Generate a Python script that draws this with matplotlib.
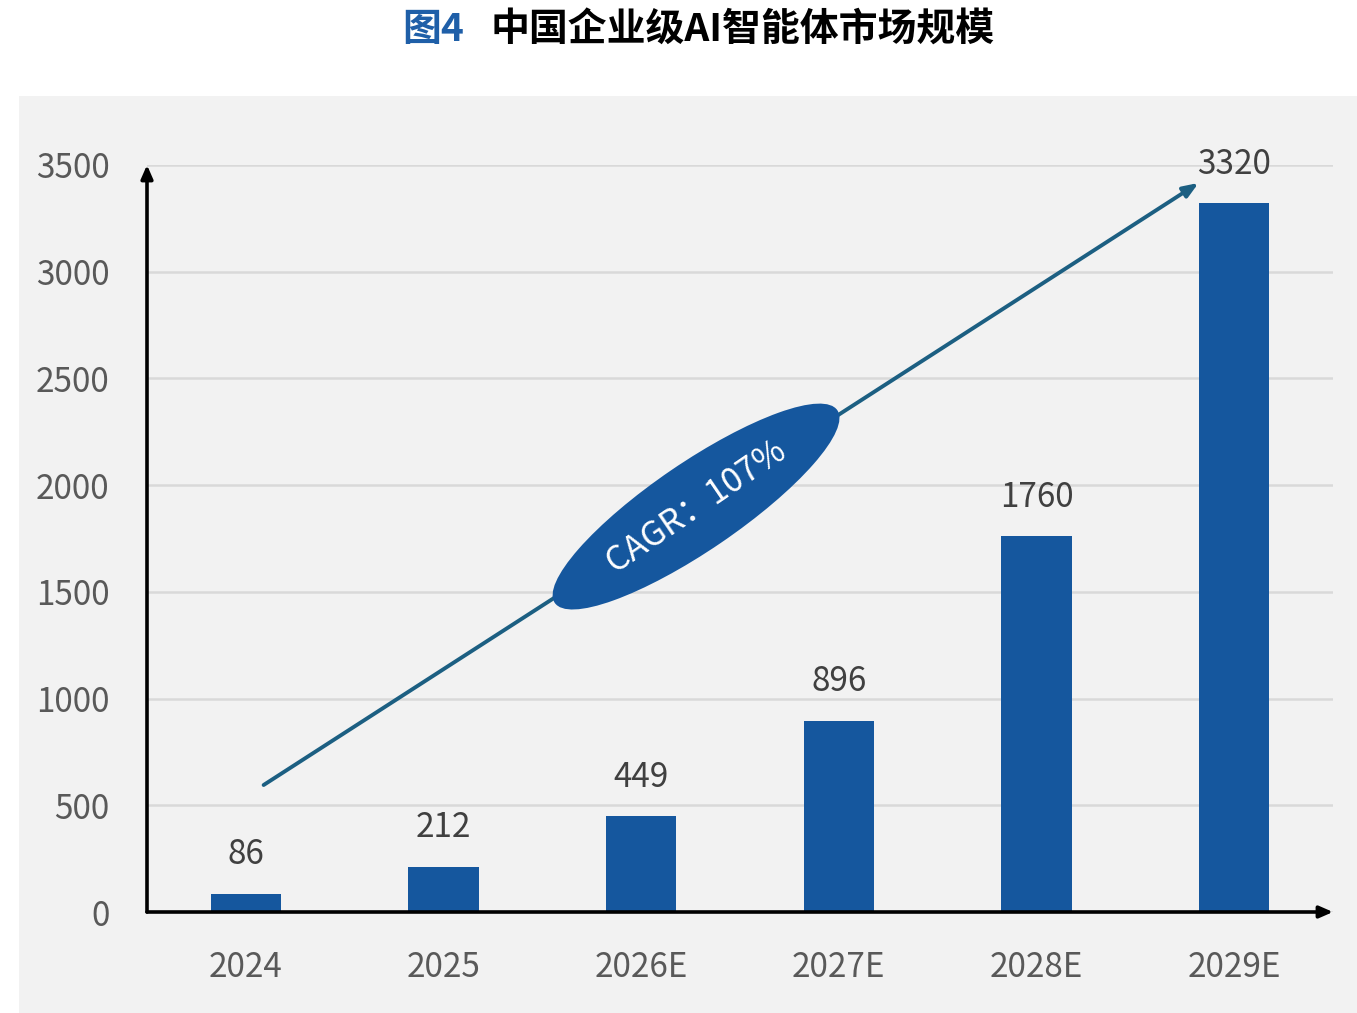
import matplotlib
matplotlib.use("Agg")
import matplotlib.pyplot as plt
from matplotlib.patches import Ellipse, Rectangle
import numpy as np

plt.rcParams['font.family'] = ['Noto Sans CJK SC', 'DejaVu Sans']

categories = ["2024", "2025", "2026E", "2027E", "2028E", "2029E"]
values = [86, 212, 449, 896, 1760, 3320]
yticks = [0, 500, 1000, 1500, 2000, 2500, 3000, 3500]
title_prefix = "图4"
title_main = "中国企业级AI智能体市场规模"
cagr_text = "CAGR：107%"

BAR_COLOR = "#15579e"
ARROW_COLOR = "#1c5f82"
TICK_COLOR = "#595959"
LABEL_COLOR = "#404040"

W, H = 1357, 1013
fig = plt.figure(figsize=(W / 100, H / 100), dpi=100)
fig.patch.set_facecolor("white")

# gray panel
fig.patches.append(Rectangle((19 / W, 0), 1 - 19 / W, (H - 96) / H,
                             transform=fig.transFigure, facecolor="#f2f2f2",
                             edgecolor="none", zorder=-10))

ax = fig.add_axes([147 / W, (H - 912) / H, 1186 / W, (912 - 165) / H])
ax.set_facecolor("none")
ax.set_zorder(1)

x = np.arange(len(categories))
ax.bar(x, values, width=0.355, color=BAR_COLOR, zorder=3)

for xi, v in zip(x, values):
    ax.annotate(f"{v}", (xi, v), xytext=(0, 28), textcoords="offset points",
                ha="center", va="center", fontsize=24, color=LABEL_COLOR,
                weight="light", zorder=5)

ax.set_xlim(-0.5, len(categories) - 0.5)
ax.set_ylim(0, 3500)
ax.set_yticks(yticks)
ax.set_yticklabels([str(t) for t in yticks])
ax.set_xticks(x)
ax.set_xticklabels(categories)
ax.tick_params(axis="both", length=0, labelsize=24, labelcolor=TICK_COLOR)
ax.tick_params(axis="y", pad=27)
ax.tick_params(axis="x", pad=27)
for lab in ax.get_xticklabels() + ax.get_yticklabels():
    lab.set_fontweight("light")

ax.grid(axis="y", color="#d9d9d9", linewidth=1.8, zorder=1)
ax.set_axisbelow(True)
for s in ax.spines.values():
    s.set_visible(False)

# axis arrows
ax.annotate("", xy=(0, 1.0), xytext=(0, 0), xycoords="axes fraction",
            arrowprops=dict(arrowstyle="-|>,head_length=0.8,head_width=0.35",
                            color="black", lw=2.6, shrinkA=0, shrinkB=0),
            annotation_clip=False, zorder=6)
ax.annotate("", xy=(1.0, 0), xytext=(0, 0), xycoords="axes fraction",
            arrowprops=dict(arrowstyle="-|>,head_length=0.8,head_width=0.35",
                            color="black", lw=2.6, shrinkA=0, shrinkB=0),
            annotation_clip=False, zorder=6)

# CAGR trend arrow
x0, y0 = 0.09, 595
x1, y1 = 4.82, 3416
ax.annotate("", xy=(x1, y1), xytext=(x0, y0), xycoords="data",
            arrowprops=dict(arrowstyle="-|>,head_length=0.9,head_width=0.35",
                            color=ARROW_COLOR, lw=2.8, shrinkA=0, shrinkB=0),
            annotation_clip=False, zorder=4)

# ellipse around CAGR label (placed on arrow midpoint, in pixel units)
fig.canvas.draw()
t = 0.4625
cx, cy = x0 + t * (x1 - x0), y0 + t * (y1 - y0)
px0 = ax.transData.transform((x0, y0))
px1 = ax.transData.transform((x1, y1))
ang = np.degrees(np.arctan2(px1[1] - px0[1], px1[0] - px0[0]))
pc = ax.transData.transform((cx, cy))
ell = Ellipse((pc[0] / 100, pc[1] / 100), 3.42, 0.88, angle=ang + 1.5,
              transform=fig.dpi_scale_trans, facecolor=BAR_COLOR,
              edgecolor="none", zorder=7)
fig.patches.append(ell)
fig.text(pc[0] / W, pc[1] / H, cagr_text, rotation=ang + 1.5,
         rotation_mode="anchor", ha="center", va="center", fontsize=24.5,
         color="white", weight="light", zorder=8)

# title
fig.text(464 / W, (H - 30) / H, title_prefix, ha="right", va="center",
         fontsize=28, weight="bold", color="#1f5fa8")
fig.text(491 / W, (H - 30) / H, title_main, ha="left", va="center",
         fontsize=28, weight="bold", color="black")

fig.savefig("out.png", dpi=100)
